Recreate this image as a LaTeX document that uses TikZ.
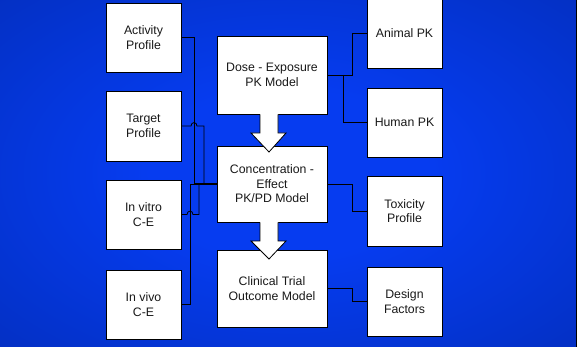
\documentclass[tikz,border=0pt]{standalone}
\usepackage{fontspec}
\setmainfont{Liberation Sans}
\usetikzlibrary{shadows}
\definecolor{bgin}{RGB}{6,60,240}
\definecolor{bgout}{RGB}{0,32,135}
\definecolor{txt}{RGB}{25,25,25}
\pgfdeclareradialshading{bgshade}{\pgfpoint{0bp}{0bp}}{color(0bp)=(bgin); color(12bp)=(bgin); color(68bp)=(bgout)}
\begin{document}
\begin{tikzpicture}[x=1pt,y=-1pt,
  box/.style={draw=black, line width=0.8pt, fill=white, align=center, text=txt,
    font=\fontsize{12.3}{14.5}\selectfont, inner sep=1pt,
    drop shadow={shadow xshift=1.3pt, shadow yshift=-1.3pt, fill=black, opacity=0.6}},
  sbox/.style={box, minimum width=75pt},
  mbox/.style={box, minimum width=110pt},
  conn/.style={draw=black, line width=0.8pt},
  bigarrow/.style={fill=white, draw=black, line width=0.8pt, line join=miter}]
\useasboundingbox (0,0) rectangle (577,347);
\path[shading=bgshade] (0,0) rectangle (577,347);
\fill[black] (576,0) rectangle (577,347);

% left boxes
\node[sbox, minimum height=69pt] (act) at (143.5,37.5) {Activity\\Profile};
\node[sbox, minimum height=70pt] (tgt) at (143.5,126) {Target\\Profile};
\node[sbox, minimum height=69pt] (vitro) at (143.5,214.5) {In vitro\\C-E};
\node[sbox, minimum height=69pt] (vivo) at (143.5,304.5) {In vivo\\C-E};

% middle boxes
\node[mbox, minimum height=78pt] (dose) at (272,75) {Dose - Exposure\\PK Model};
\node[mbox, minimum height=76pt] (conc) at (272,184) {Concentration -\\Effect\\PK/PD Model};
\node[mbox, minimum height=77pt] (clin) at (272,288.5) {Clinical Trial\\Outcome Model};

% right boxes
\node[sbox, minimum height=69pt] (animal) at (404.5,33.5) {Animal PK};
\node[sbox, minimum height=69pt] (human) at (404.5,122.5) {Human PK};
\node[sbox, minimum height=70pt] (tox) at (404.5,211) {Toxicity\\Profile};
\node[sbox, minimum height=69pt] (design) at (404.5,301.5) {Design\\Factors};

% right connectors
\coordinate (j1) at (343,75);
\draw[conn] (dose.east) -- (352,75) |- (animal.west);
\draw[conn] (j1) |- (human.west);
\draw[conn] (conc.east) -- (352,184) |- (tox.west);
\draw[conn] (clin.east) -- (352,288.5) |- (design.west);

% left connectors
\draw[conn] (act.east) -- (194,37.5) -- (194,184) -- (conc.west);
\draw[conn] (tgt.east) -- (191,126) .. controls (191,121.5) and (197,121.5) .. (197,126) -- (204,126) -- (204,184);
\draw[conn] (vitro.east) -- (187,214.5) .. controls (187,210) and (193,210) .. (193,214.5) -- (199,214.5) -- (199,184);
\draw[conn] (vivo.east) -- (190,304.5) -- (190,184) -- (conc.west);
\draw[line width=1.5pt] (194,184) -- (conc.west);

% block arrows
\fill[white] (260,113) -- (260,133) -- (251,133) -- (269,152) -- (286,133) -- (278,133) -- (278,113) -- cycle;
\draw[bigarrow, fill=none] (260,114.4) -- (260,133) -- (251,133) -- (269,152) -- (286,133) -- (278,133) -- (278,114.4);
\fill[white] (260,221) -- (260,241) -- (251,241) -- (269,259) -- (286,241) -- (278,241) -- (278,221) -- cycle;
\draw[bigarrow, fill=none] (260,222.4) -- (260,241) -- (251,241) -- (269,259) -- (286,241) -- (278,241) -- (278,222.4);
\end{tikzpicture}
\end{document}
